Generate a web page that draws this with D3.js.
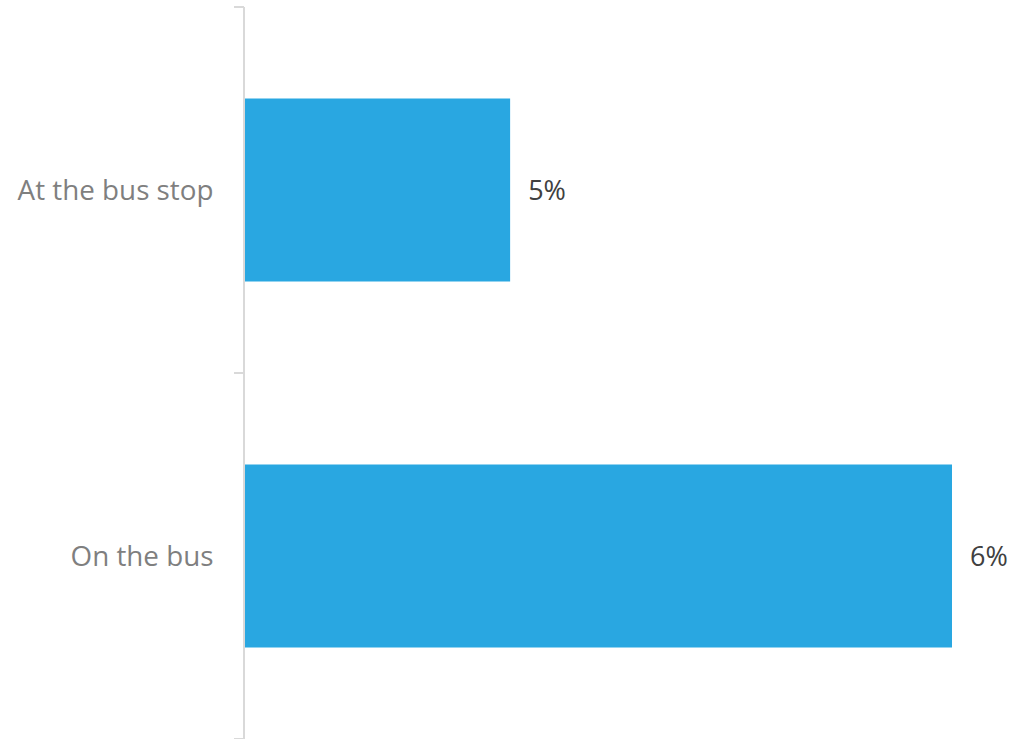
<!DOCTYPE html>
<html>
<head>
<meta charset="utf-8">
<script src="https://cdn.jsdelivr.net/npm/d3@7"></script>
<style>
  html, body { margin: 0; padding: 0; background: #ffffff; }
  svg { display: block; }
</style>
</head>
<body>
<svg id="chart" width="1012" height="739"></svg>
<script>
// Data
const categories = ["At the bus stop", "On the bus"];
const values = [5.2, 5.8];          // percent (labels rounded)
const xDomain = [4.84, 5.8];        // axis does not start at zero

const width = 1012, height = 739;
const margin = { top: 7, right: 60, bottom: 0, left: 245 };

const svg = d3.select("#chart");

const y = d3.scaleBand()
  .domain(categories)
  .range([margin.top, margin.top + 732])
  .paddingInner(0.5)
  .paddingOuter(0.25);

const x = d3.scaleLinear()
  .domain(xDomain)
  .range([margin.left, 952]);

// Bars
svg.append("g")
  .selectAll("rect")
  .data(categories)
  .join("rect")
  .attr("x", x(xDomain[0]))
  .attr("y", d => y(d))
  .attr("width", (d, i) => x(values[i]) - x(xDomain[0]))
  .attr("height", y.bandwidth())
  .attr("fill", "#29a7e1");

// Y axis
const yAxis = d3.axisLeft(y).tickSize(0).tickPadding(31);
const gy = svg.append("g")
  .attr("transform", `translate(${margin.left - 0.5},1)`)
  .call(yAxis);
gy.select(".domain").remove();
gy.selectAll("text")
  .attr("fill", "#7f7f7f")
  .style("font-family", "'Open Sans', sans-serif")
  .style("font-size", "27.8px");

// axis line + boundary ticks
const step = y.step();
const bounds = d3.range(categories.length + 1).map(i => margin.top + i * step);
const axisG = svg.append("g").attr("stroke", "#d9d9d9").attr("stroke-width", 2);
axisG.append("line")
  .attr("x1", margin.left - 1).attr("x2", margin.left - 1)
  .attr("y1", bounds[0]).attr("y2", bounds[bounds.length - 1]);
axisG.selectAll("line.tick")
  .data(bounds)
  .join("line")
  .attr("class", "tick")
  .attr("x1", margin.left - 11).attr("x2", margin.left - 1)
  .attr("y1", d => d).attr("y2", d => d);

// Value labels
svg.append("g")
  .selectAll("text")
  .data(categories)
  .join("text")
  .attr("x", (d, i) => x(values[i]) + 18)
  .attr("y", d => y(d) + y.bandwidth() / 2 + 1)
  .attr("dy", "0.35em")
  .attr("fill", "#404040")
  .style("font-family", "'Open Sans', sans-serif")
  .style("font-size", "27px")
  .text((d, i) => Math.round(values[i]) + "%");
</script>
</body>
</html>
